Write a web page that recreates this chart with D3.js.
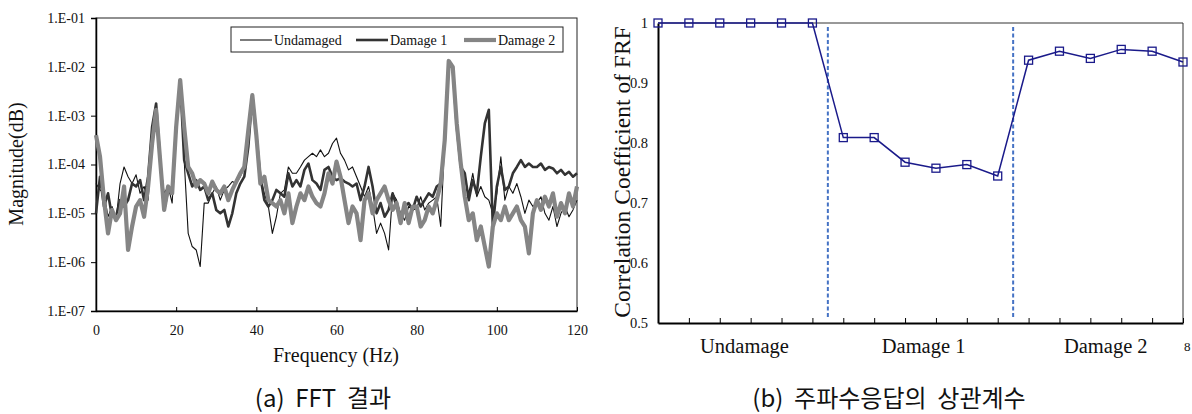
<!DOCTYPE html>
<html>
<head>
<meta charset="utf-8">
<script src="https://cdn.jsdelivr.net/npm/d3@7"></script>
<style>
  body { margin: 0; background: #fff; }
  svg { display: block; }
  .serif { font-family: "Liberation Serif", "Times New Roman", serif; fill: #111; }
  .cap { font-family: "Noto Sans CJK KR", "Noto Sans", sans-serif; fill: #111; white-space: pre; }
</style>
</head>
<body>
<svg width="1192" height="414"></svg>
<script>
// ---- data: FFT magnitude (log10) read at 1 Hz steps, 0..120 Hz
const freqs = d3.range(0, 121);
const undamagedLog = [
  -4.39,-4.52,-4.59,-5.07,-4.86,-5.14,-4.39,-4.05,-4.25,-4.39,-4.21,-4.59,-4.45,-4.73,-3.57,-2.82,-3.91,-4.59,-4.45,-4.79,
  -3.23,-2.27,-3.91,-5.41,-5.68,-5.75,-6.09,-4.79,-4.79,-4.59,-4.45,-4.73,-4.52,-4.45,-4.35,-4.39,-4.25,-4.05,-3.64,-2.58,
  -3.40,-4.25,-4.59,-4.86,-5.41,-5.07,-4.59,-4.52,-4.05,-4.18,-4.18,-4.05,-3.91,-3.84,-3.77,-3.84,-3.70,-3.84,-3.77,-3.57,
  -3.46,-3.77,-3.91,-4.11,-4.05,-4.25,-4.45,-4.66,-4.45,-4.86,-5.41,-5.20,-5.41,-5.75,-4.59,-4.73,-5.00,-5.14,-4.86,-4.93,
  -4.90,-4.66,-4.93,-4.79,-4.73,-4.66,-5.27,-3.50,-1.88,-2.00,-3.23,-4.05,-4.32,-4.59,-4.18,-4.66,-4.45,-4.66,-4.73,-5.00,
  -4.59,-3.84,-4.73,-4.45,-4.59,-4.39,-4.66,-5.00,-4.73,-4.86,-4.79,-4.66,-5.00,-5.14,-4.86,-5.27,-5.00,-4.86,-5.07,-4.93,
  -4.73
];
const damage1Log = [
  -5.00,-4.25,-4.86,-4.59,-5.07,-5.07,-4.73,-4.86,-4.73,-4.39,-4.45,-4.32,-4.73,-4.25,-3.23,-2.75,-3.91,-4.93,-4.52,-4.59,
  -3.23,-2.27,-3.91,-4.18,-4.45,-4.32,-4.52,-4.45,-4.73,-4.59,-4.93,-5.00,-4.93,-5.27,-5.00,-4.59,-4.39,-4.25,-3.64,-2.58,
  -3.40,-4.25,-4.73,-4.86,-4.73,-4.52,-4.59,-4.66,-4.18,-4.45,-4.32,-4.45,-4.11,-3.98,-4.32,-4.39,-4.52,-4.11,-4.05,-4.25,
  -4.32,-4.28,-4.35,-4.39,-4.45,-4.39,-4.73,-4.45,-4.05,-4.45,-5.00,-4.79,-5.07,-4.93,-4.59,-4.86,-5.14,-4.86,-4.79,-4.93,
  -4.66,-4.86,-4.73,-4.59,-4.66,-4.45,-4.39,-3.50,-1.88,-2.00,-3.23,-4.05,-4.18,-4.73,-4.32,-4.59,-3.84,-3.16,-2.88,-5.27,
  -4.45,-4.05,-4.52,-4.45,-4.18,-4.05,-3.91,-4.05,-3.98,-4.05,-4.05,-3.98,-4.11,-4.05,-4.08,-4.18,-4.11,-4.21,-4.15,-4.25,
  -4.18
];
const damage2Log = [
  -3.40,-3.84,-4.73,-5.41,-4.93,-5.14,-5.00,-4.45,-5.75,-5.27,-4.86,-4.73,-5.07,-4.45,-3.57,-2.88,-3.91,-4.93,-4.45,-4.59,
  -3.23,-2.27,-3.23,-4.05,-4.18,-4.45,-4.32,-4.39,-4.59,-4.35,-4.52,-4.59,-4.45,-4.73,-4.52,-4.35,-4.18,-4.05,-3.30,-2.58,
  -3.40,-4.39,-4.25,-4.73,-4.79,-4.86,-4.73,-5.00,-4.59,-5.20,-4.86,-4.59,-4.73,-4.45,-4.66,-4.79,-4.86,-4.59,-4.18,-4.39,
  -3.94,-4.25,-4.73,-5.20,-4.86,-5.00,-5.55,-4.73,-4.59,-5.00,-4.73,-4.59,-4.45,-4.73,-4.93,-4.79,-5.20,-4.79,-5.20,-4.86,
  -4.86,-5.27,-5.14,-4.86,-5.00,-4.73,-4.39,-3.50,-1.88,-2.00,-3.16,-3.98,-4.66,-5.14,-5.00,-5.55,-5.27,-5.68,-6.09,-5.27,
  -5.00,-5.14,-4.86,-5.14,-5.00,-4.86,-5.14,-5.27,-5.82,-5.00,-4.73,-4.93,-4.66,-4.86,-4.59,-5.07,-4.79,-5.00,-4.59,-4.86,
  -4.45
];
const fftSeries = ["Undamaged", "Damage 1", "Damage 2"];
const fftTicksX = [0, 20, 40, 60, 80, 100, 120];
const fftTicksY = [1e-1, 1e-2, 1e-3, 1e-4, 1e-5, 1e-6, 1e-7];

// ---- data: correlation coefficient of FRF
const corrValues = [1, 1, 1, 1, 1, 1,
  0.809, 0.809, 0.768, 0.758, 0.764, 0.745,
  0.938, 0.953, 0.941, 0.956, 0.953, 0.935];
const corrGroups = ["Undamage", "Damage 1", "Damage 2"];
const corrGroupPos = [2.8, 8.6, 14.5];
const corrDividers = [5.5, 11.5];
const corrTicksY = [0.5, 0.6, 0.7, 0.8, 0.9, 1];

const svg = d3.select("svg");

// ================= (a) FFT =================
const A = { left: 96, right: 577, top: 18, bottom: 311 };
const xA = d3.scaleLinear().domain([0, 120]).range([A.left, A.right]);
const yA = d3.scaleLog().domain([1e-7, 1e-1]).range([A.bottom, A.top]);

const gA = svg.append("g");
gA.append("rect")
  .attr("x", A.left).attr("y", A.top)
  .attr("width", A.right - A.left).attr("height", A.bottom - A.top)
  .attr("fill", "none").attr("stroke", "#222").attr("stroke-width", 1);

const fmtE = d => "1.E-" + String(Math.round(-Math.log10(d))).padStart(2, "0");
gA.append("g")
  .attr("transform", `translate(${A.left},0)`)
  .call(d3.axisLeft(yA).tickValues(fftTicksY).tickFormat(fmtE).tickSizeOuter(0).tickSize(5).tickPadding(6))
  .call(g => g.select(".domain").attr("stroke", "#000").attr("stroke-width", 1.5))
  .call(g => g.selectAll("text").attr("class", "serif").style("font-size", "14px"));

gA.append("g")
  .attr("transform", `translate(0,${A.bottom})`)
  .call(d3.axisBottom(xA).tickValues(fftTicksX).tickSizeInner(-4).tickSizeOuter(0).tickPadding(14))
  .call(g => g.select(".domain").attr("stroke", "#000").attr("stroke-width", 1.5))
  .call(g => g.selectAll("text").attr("class", "serif").style("font-size", "14px"));

const fftStyles = [
  { data: undamagedLog, color: "#111", width: 1.1 },
  { data: damage1Log, color: "#333", width: 2.6 },
  { data: damage2Log, color: "#858585", width: 4.2 }
];
const lineA = d3.line().x(d => xA(d.f)).y(d => yA(d.v));
fftStyles.forEach(s => {
  const pts = freqs.map((f, i) => ({ f, v: Math.pow(10, s.data[i]) }));
  gA.append("path").datum(pts)
    .attr("d", lineA)
    .attr("fill", "none")
    .attr("stroke", s.color)
    .attr("stroke-width", s.width)
    .attr("stroke-linejoin", "round");
});

// legend
const leg = gA.append("g");
leg.append("rect").attr("x", 231).attr("y", 27).attr("width", 332).attr("height", 25)
  .attr("fill", "#fff").attr("stroke", "#222").attr("stroke-width", 1);
const legX = [240, 356, 464];
fftSeries.forEach((name, i) => {
  const s = fftStyles[i];
  leg.append("line").attr("x1", legX[i]).attr("x2", legX[i] + 32)
    .attr("y1", 40).attr("y2", 40)
    .attr("stroke", s.color).attr("stroke-width", s.width);
  leg.append("text").attr("class", "serif")
    .attr("x", legX[i] + 34).attr("y", 45)
    .style("font-size", "14px").text(name);
});

gA.append("text").attr("class", "serif")
  .attr("x", 336).attr("y", 362)
  .attr("text-anchor", "middle").style("font-size", "20px")
  .text("Frequency (Hz)");
gA.append("text").attr("class", "serif")
  .attr("transform", `translate(23,164) rotate(-90)`)
  .attr("text-anchor", "middle").style("font-size", "20px")
  .text("Magnitude(dB)");
svg.append("text").attr("class", "cap")
  .attr("x", 323).attr("y", 407).attr("text-anchor", "middle")
  .style("font-size", "24px").text("(a)  FFT  결과");

// ================= (b) Correlation =================
const B = { left: 658, right: 1183, top: 23, bottom: 323 };
const xB = d3.scaleLinear().domain([0, corrValues.length - 1]).range([B.left, B.right]);
const yB = d3.scaleLinear().domain([0.5, 1]).range([B.bottom, B.top]);

const gB = svg.append("g");
gB.append("path")
  .attr("d", `M${B.left},${B.top}H${B.right}V${B.bottom}`)
  .attr("fill", "none").attr("stroke", "#333").attr("stroke-width", 1);

gB.append("g")
  .attr("transform", `translate(${B.left},0)`)
  .call(d3.axisLeft(yB).tickValues(corrTicksY).tickFormat(d3.format("")).tickSize(0).tickPadding(10))
  .call(g => g.select(".domain").attr("stroke", "#000").attr("stroke-width", 2))
  .call(g => g.selectAll("text").attr("class", "serif").style("font-size", "14.5px"));

gB.append("g")
  .attr("transform", `translate(0,${B.bottom})`)
  .call(d3.axisBottom(xB).tickValues(d3.range(1, corrValues.length)).tickFormat("").tickSizeInner(-5).tickSizeOuter(0))
  .call(g => g.select(".domain").attr("stroke", "#000").attr("stroke-width", 2));

gB.selectAll(".grp").data(corrGroups).join("text")
  .attr("class", "serif")
  .attr("x", (d, i) => xB(corrGroupPos[i])).attr("y", 353)
  .attr("text-anchor", "middle").style("font-size", "20.5px")
  .text(d => d);
// small label fragment at the right edge
svg.append("text").attr("class", "serif")
  .attr("x", 1184).attr("y", 351).style("font-size", "13px").text("8");

gB.selectAll(".divider").data(corrDividers).join("line")
  .attr("x1", d => xB(d)).attr("x2", d => xB(d))
  .attr("y1", B.top + 4).attr("y2", B.bottom - 4)
  .attr("stroke", "#4472c4").attr("stroke-width", 2).attr("stroke-dasharray", "4,2.5");

gB.append("path").datum(corrValues)
  .attr("d", d3.line().x((d, i) => xB(i)).y(d => yB(d)))
  .attr("fill", "none").attr("stroke", "#1a1a8a").attr("stroke-width", 1.5);

gB.selectAll(".mk").data(corrValues).join("rect")
  .attr("x", (d, i) => xB(i) - 4).attr("y", d => yB(d) - 4)
  .attr("width", 8).attr("height", 8)
  .attr("fill", "none").attr("stroke", "#1a1a8a").attr("stroke-width", 1.3);

gB.append("text").attr("class", "serif")
  .attr("transform", `translate(630,172) rotate(-90)`)
  .attr("text-anchor", "middle").style("font-size", "23.5px")
  .text("Correlation Coefficient of FRF");
svg.append("text").attr("class", "cap")
  .attr("x", 889).attr("y", 407).attr("text-anchor", "middle")
  .style("font-size", "24px").text("(b)  주파수응답의  상관계수");
</script>
</body>
</html>
